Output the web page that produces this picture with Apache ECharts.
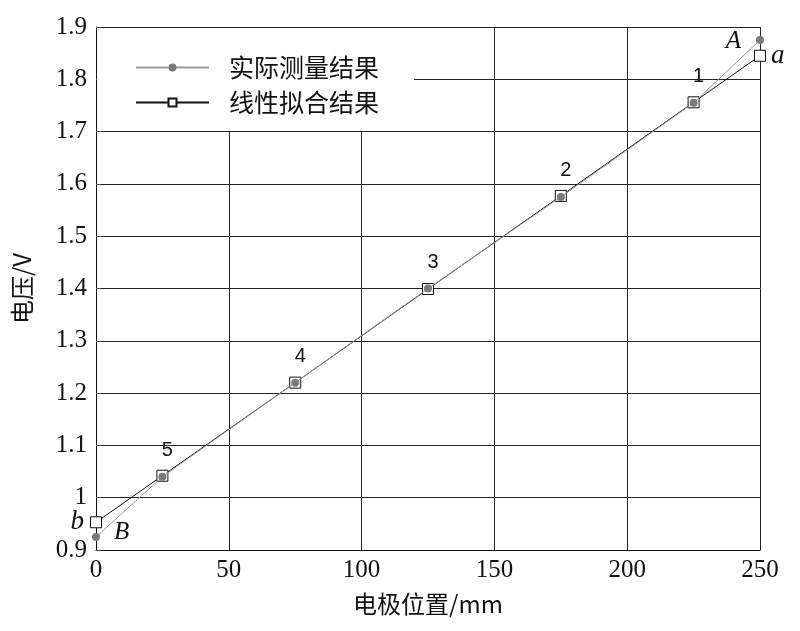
<!DOCTYPE html>
<html><head><meta charset="utf-8">
<script src="https://cdn.jsdelivr.net/npm/echarts@6/dist/echarts.min.js"></script>
<style>html,body{margin:0;padding:0;background:#fff}#c{width:800px;height:631px}</style>
</head><body><div id="c"></div>
<script>
var positions = [0, 25, 75, 125, 175, 225, 250];
var measured = [0.925, 1.04, 1.22, 1.40, 1.575, 1.755, 1.875];
var fitted = [0.953, 1.042, 1.220, 1.399, 1.577, 1.756, 1.845];
var pointLabels = ['', '5', '4', '3', '2', '1', ''];
var seriesNames = ['实际测量结果', '线性拟合结果'];
var xTicks = [0, 50, 100, 150, 200, 250];

var serif = 'Liberation Serif';
var cjk = 'Noto Sans CJK SC';

var measData = positions.map(function (p, i) {
  var d = { value: [p, measured[i]] };
  if (pointLabels[i]) {
    d.label = { show: true, formatter: pointLabels[i], position: 'top', distance: 12, offset: [5, 0],
      fontFamily: 'Liberation Sans', fontSize: 20, color: '#111' };
  }
  return d;
});
measData[6].label = { show: true, formatter: 'A', position: 'left', distance: 15, offset: [0, 1],
  fontFamily: serif, fontStyle: 'italic', fontSize: 25, color: '#111' };
measData[0].label = { show: true, formatter: 'B', position: 'right', distance: 14, offset: [0, -5],
  fontFamily: serif, fontStyle: 'italic', fontSize: 25, color: '#111' };

var fitData = positions.map(function (p, i) { return { value: [p, fitted[i]] }; });
fitData[6].label = { show: true, formatter: 'a', position: 'right', distance: 5,
  fontFamily: serif, fontStyle: 'italic', fontSize: 27, color: '#111' };
fitData[0].label = { show: true, formatter: 'b', position: 'left', distance: 6,
  fontFamily: serif, fontStyle: 'italic', fontSize: 27, color: '#111' };

var chart = echarts.init(document.getElementById('c'));
chart.setOption({
  backgroundColor: '#fff',
  animation: false,
  grid: { left: 96, right: 40, top: 27, bottom: 81 },
  legend: {
    data: seriesNames,
    orient: 'vertical',
    left: 97, top: 28,
    padding: [27, 35, 16, 38],
    itemGap: 10,
    itemWidth: 73, itemHeight: 10,
    backgroundColor: '#fff',
    textStyle: { fontFamily: cjk, fontSize: 25, color: '#111', padding: [0, 0, 0, 15] }
  },
  xAxis: {
    type: 'value', min: 0, max: 250, interval: 50,
    name: '电极位置/mm', nameLocation: 'middle', nameGap: 42,
    nameTextStyle: { fontFamily: cjk, fontSize: 24, color: '#111' },
    axisLine: { show: true, lineStyle: { color: '#111', width: 1 } },
    axisTick: { show: false },
    axisLabel: { fontFamily: serif, fontSize: 25, color: '#111', margin: 8 },
    splitLine: { show: true, lineStyle: { color: '#222', width: 1 } }
  },
  yAxis: {
    type: 'value', min: 0.9, max: 1.9, interval: 0.1,
    name: '电压/V', nameLocation: 'middle', nameGap: 62,
    nameTextStyle: { fontFamily: cjk, fontSize: 24, color: '#111' },
    axisLine: { show: true, lineStyle: { color: '#111', width: 1 } },
    axisTick: { show: true, inside: true, length: 5, lineStyle: { color: '#555' } },
    axisLabel: { fontFamily: serif, fontSize: 25, color: '#111', margin: 9,
      formatter: function (v) { return String(Math.round(v * 10) / 10); } },
    splitLine: { show: true, lineStyle: { color: '#222', width: 1 } }
  },
  series: [
    {
      name: seriesNames[0], type: 'line', data: measData, z: 4, clip: false,
      symbol: 'circle', symbolSize: 8,
      itemStyle: { color: '#7a7a7a' },
      lineStyle: { color: '#999', width: 1 }
    },
    {
      name: seriesNames[1], type: 'line', data: fitData, z: 3, clip: false,
      symbol: 'rect', symbolSize: 11,
      itemStyle: { color: '#fff', borderColor: '#111', borderWidth: 1 },
      lineStyle: { color: '#111', width: 1 }
    }
  ]
});
</script></body></html>
